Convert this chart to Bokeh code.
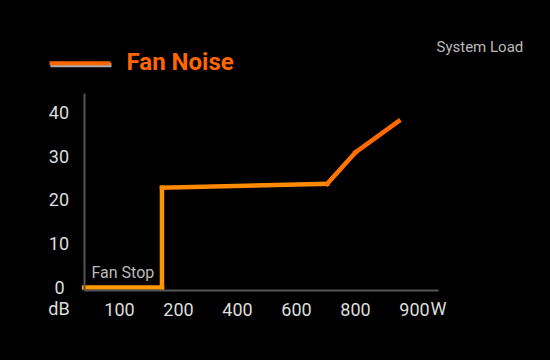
from bokeh.plotting import figure
from bokeh.models import FixedTicker, Label, BoxAnnotation, Range1d, ColumnDataSource
from bokeh.embed import file_html
from bokeh.resources import INLINE

# Data
load_labels = ["100", "200", "400", "600", "800", "900"]
load_pos = [1, 2, 3, 4, 5, 6]
noise_ticks = [0, 10, 20, 30, 40]
noise_labels = ["0\u2005", "10", "20", "30", "40"]
# curve points, x in tick-position units of the load axis
curve_x = [0.4, 1.72, 1.72, 4.52, 5.0, 5.73]
curve_db = [0, 0, 22.8, 23.7, 30.9, 38.0]
seg_colors = ["#FF9900", "#FF9700", "#FF8A00", "#FF7600", "#FF6A00"]

FONT = "Roboto"
X_AXIS_BOUNDS = (0.4, 6.4)
Y_AXIS_BOUNDS = (-0.686, 44.3)

p = figure(width=550, height=360, output_backend="svg", toolbar_location=None,
           x_range=Range1d(-1.0169, 8.305), y_range=Range1d(-16.686, 65.6),
           min_border=0, min_border_left=0, min_border_right=0,
           min_border_top=0, min_border_bottom=0)
p.background_fill_color = "black"
p.border_fill_color = "black"
p.outline_line_color = None
p.xgrid.visible = False
p.ygrid.visible = False

for ax in (p.xaxis[0], p.yaxis[0]):
    ax.axis_line_color = "#555555"
    ax.axis_line_width = 2
    ax.major_tick_line_color = None
    ax.minor_tick_line_color = None
    ax.major_tick_out = 0
    ax.major_tick_in = 0
    ax.major_label_text_color = "#DDDDDD"
    ax.major_label_text_font = FONT
    ax.major_label_text_font_size = "18px"

p.xaxis.fixed_location = Y_AXIS_BOUNDS[0]
p.xaxis.bounds = X_AXIS_BOUNDS
p.xaxis.ticker = FixedTicker(ticks=load_pos)
p.xaxis.major_label_overrides = {pos: lab for pos, lab in zip(load_pos, load_labels)}
p.xaxis.major_label_standoff = 12

p.yaxis.fixed_location = X_AXIS_BOUNDS[0]
p.yaxis.bounds = Y_AXIS_BOUNDS
p.yaxis.ticker = FixedTicker(ticks=noise_ticks)
p.yaxis.major_label_overrides = {t: lab for t, lab in zip(noise_ticks, noise_labels)}
p.yaxis.major_label_standoff = 15

# curve as colored segments
xs = [[curve_x[i], curve_x[i + 1]] for i in range(len(curve_x) - 1)]
ys = [[curve_db[i], curve_db[i + 1]] for i in range(len(curve_db) - 1)]
src = ColumnDataSource(dict(xs=xs, ys=ys, c=seg_colors))
p.multi_line("xs", "ys", source=src, line_color="c", line_width=4.5,
             line_cap="square", line_join="miter")

# legend sample (shadow + orange)
p.add_layout(BoxAnnotation(left=-0.17, right=0.864, top=51.3, bottom=50.35,
                           fill_color="#AAAAAA", fill_alpha=1, line_color=None))
p.add_layout(BoxAnnotation(left=-0.186, right=0.847, top=51.73, bottom=50.81,
                           fill_color="#FF6600", fill_alpha=1, line_color=None))

p.add_layout(Label(x=1.119, y=51.43, text="Fan Noise", text_font=FONT, text_font_style="bold",
                   text_font_size="24px", text_color="#FF6600", text_baseline="middle"))
p.add_layout(Label(x=6.373, y=54.86, text="System Load", text_font=FONT,
                   text_font_size="15px", text_color="#BBBBBB", text_baseline="middle"))
p.add_layout(Label(x=0.525, y=3.43, text="Fan Stop", text_font=FONT,
                   text_font_size="16px", text_color="#BBBBBB", text_baseline="middle"))
p.add_layout(Label(x=-0.025, y=-4.8, text="dB", text_font=FONT, text_align="center",
                   text_font_size="18px", text_color="#DDDDDD", text_baseline="middle"))
p.add_layout(Label(x=6.27, y=-4.8, text="W", text_font=FONT, text_align="left",
                   text_font_size="18px", text_color="#DDDDDD", text_baseline="middle"))

html = file_html(p, INLINE)
html = html.replace("</head>",
                    "<style>html,body{margin:0 !important;padding:0 !important;"
                    "background:#000 !important;overflow:hidden;}</style></head>", 1)
open("out.html", "w").write(html)
